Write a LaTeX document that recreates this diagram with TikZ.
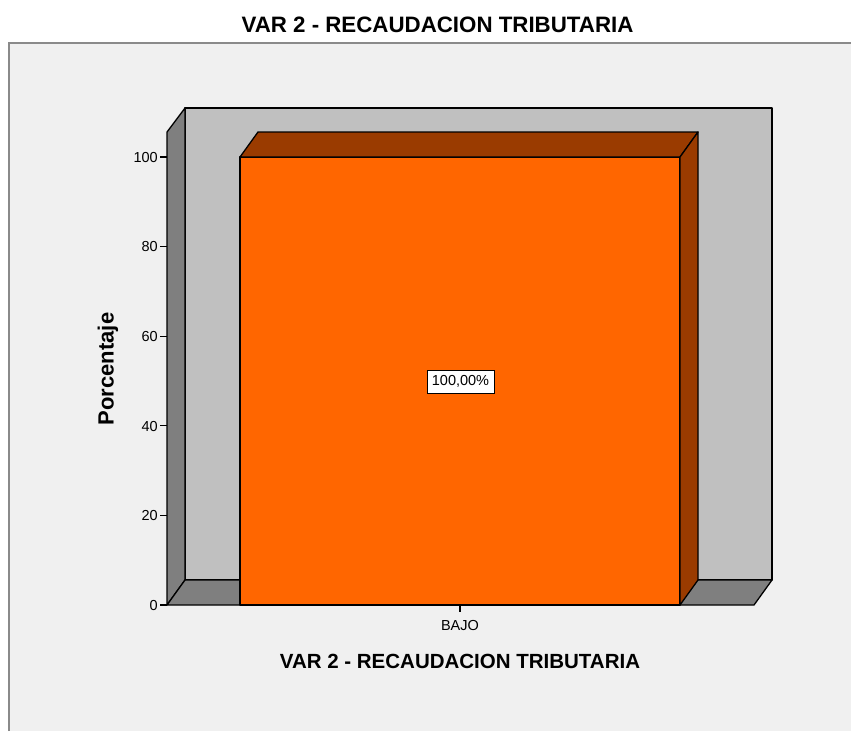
\documentclass[tikz,border=0pt]{standalone}
\usepackage{fontspec}
\setmainfont{Liberation Sans}
\definecolor{bgc}{HTML}{F0F0F0}
\definecolor{wallc}{HTML}{C0C0C0}
\definecolor{sidec}{HTML}{7F7F7F}
\definecolor{barc}{HTML}{FF6600}
\definecolor{bardark}{HTML}{9A3B00}
\definecolor{framec}{HTML}{8A8A8A}
\begin{document}
\begin{tikzpicture}[x=1pt,y=-1pt,
  face/.style={draw=black, line width=1.3pt, line join=round},
  ticklab/.style={anchor=base east, inner sep=0pt, font=\fontsize{14.5}{17}\selectfont},
  tickmark/.style={line width=1.3pt}]
\useasboundingbox (0,0) rectangle (851,731);
\fill[white] (0,0) rectangle (851,731);
\fill[bgc] (9,43) rectangle (851,731);
\draw[framec, line width=2pt] (9,731) -- (9,43) -- (851,43);
% walls
\filldraw[face, fill=wallc] (185,108) rectangle (772,580);
\filldraw[face, fill=sidec] (167,132) -- (185,108) -- (185,580) -- (167,605) -- cycle;
\filldraw[face, fill=sidec] (167,605) -- (185,580) -- (772,580) -- (754,605) -- cycle;
% bar
\filldraw[face, fill=barc] (240,157) rectangle (680,605);
\filldraw[face, fill=bardark] (240,157) -- (258,132) -- (698,132) -- (680,157) -- cycle;
\filldraw[face, fill=bardark] (680,157) -- (698,132) -- (698,580) -- (680,605) -- cycle;
% ticks
\foreach \v in {0,20,40,60,80,100} {
  \pgfmathsetmacro{\yy}{605-4.48*\v}
  \draw[tickmark] (160,\yy) -- (167,\yy);
  \node[ticklab] (t\v) at (158,\yy+5.2) {\v};
}
\draw[tickmark] (460,605) -- (460,612);
\node[anchor=base, inner sep=0pt, font=\fontsize{14.5}{17}\selectfont] (bajo) at (460,630) {BAJO};
% value label
\node[draw=black, fill=white, line width=1pt, inner sep=0pt, minimum width=67pt, minimum height=23pt, font=\fontsize{14.5}{17}\selectfont] (val) at (460.5,381.5) {100,00\%};
% titles
\node[anchor=base, inner sep=0pt, font=\fontsize{22.3}{26}\bfseries] (title) at (437.5,32) {VAR 2 - RECAUDACION TRIBUTARIA};
\node[anchor=base, inner sep=0pt, font=\fontsize{20.5}{24}\bfseries] (xtitle) at (460,668) {VAR 2 - RECAUDACION TRIBUTARIA};
\node[rotate=90, inner sep=0pt, font=\fontsize{22}{26}\bfseries] (ytitle) at (108,369) {Porcentaje};
\end{tikzpicture}
\end{document}
